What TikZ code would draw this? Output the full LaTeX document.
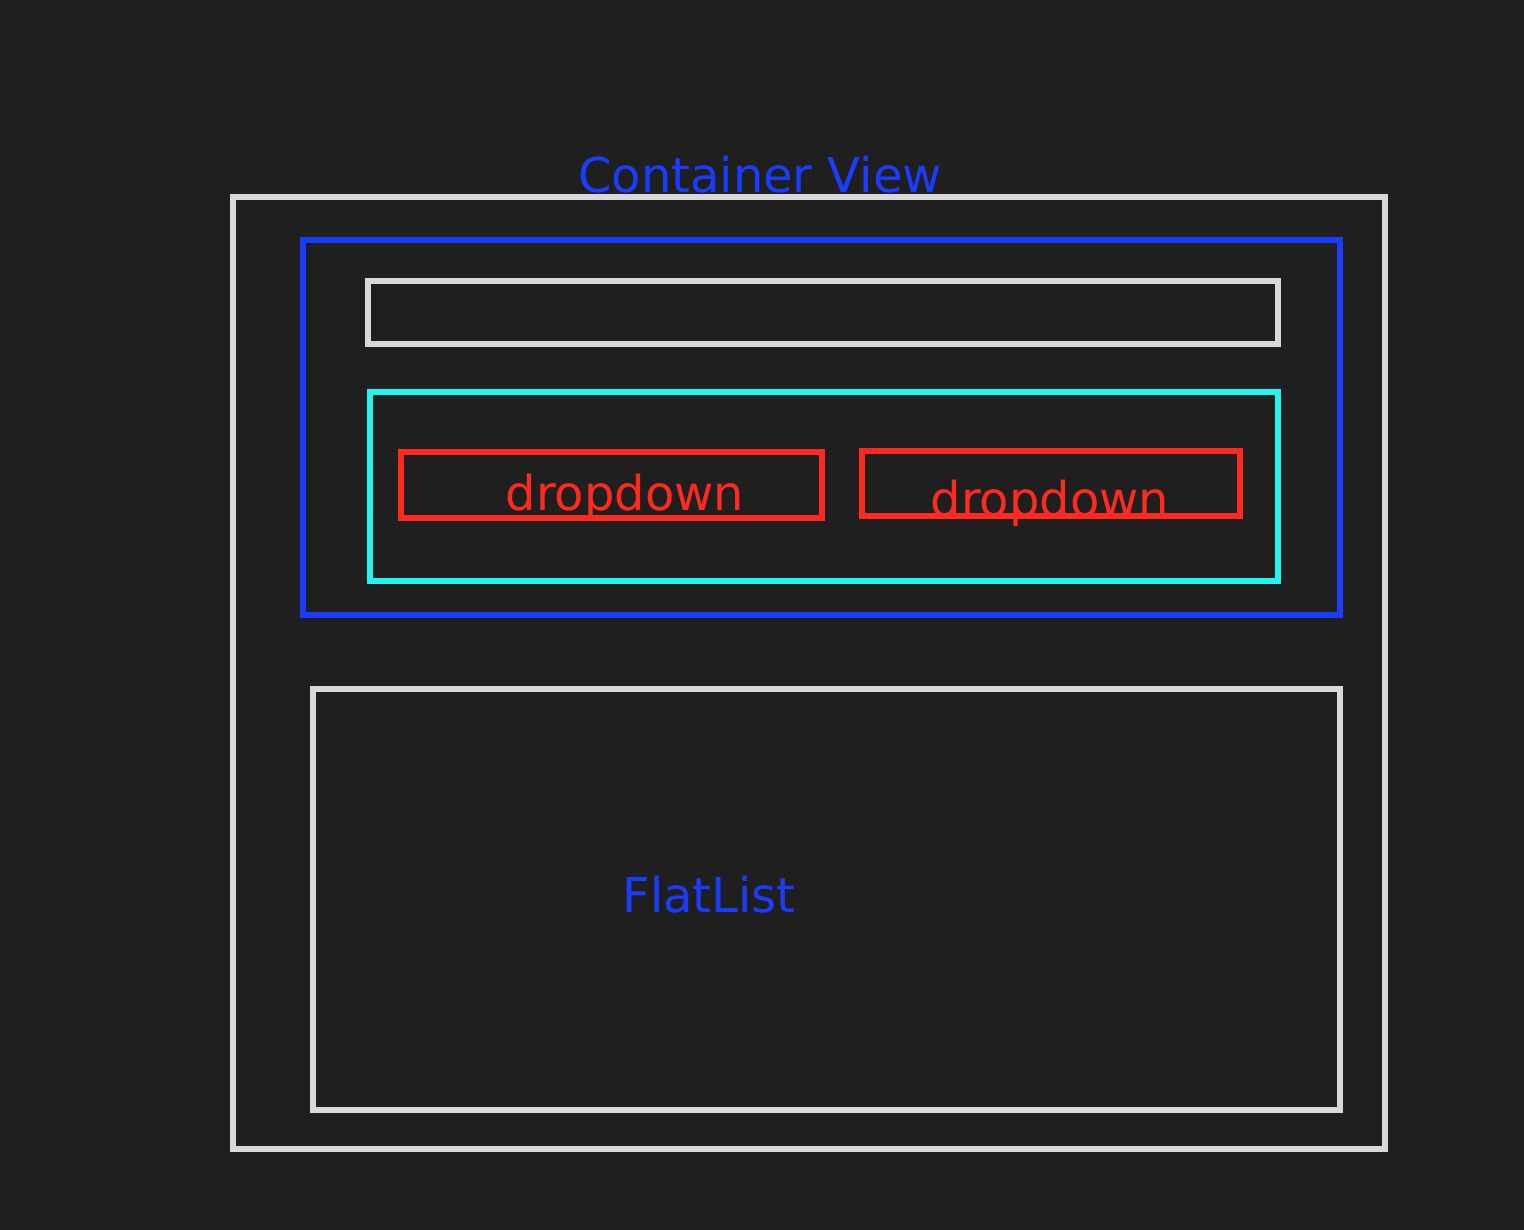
\documentclass[tikz,border=0pt]{standalone}
\usepackage{fontspec}
\setmainfont{DejaVu Sans}
\definecolor{bg}{HTML}{1F1F1F}
\definecolor{lg}{HTML}{D8D8D8}
\definecolor{bl}{HTML}{1A3CFF}
\definecolor{cy}{HTML}{22F5F0}
\definecolor{rd}{HTML}{FF2A1F}
\begin{document}
\begin{tikzpicture}[x=1pt,y=-1pt,line width=6pt,
  lbl/.style={font=\fontsize{48}{54}\selectfont,inner sep=0pt}]
\fill[bg] (0,0) rectangle (1524,1230);
\useasboundingbox (0,0) rectangle (1524,1230);
\draw[lg] (233,197) rectangle (1385,1149);
\draw[bl] (303,240) rectangle (1340,615);
\draw[lg] (368,281) rectangle (1278,344);
\draw[cy] (370,392) rectangle (1278,581);
\draw[rd] (401,452) rectangle (822,518);
\draw[rd] (862,451) rectangle (1240,516);
\draw[lg] (313,689) rectangle (1340,1110);
\node[lbl,text=bl] (cv) at (760,175) {Container View};
\node[lbl,text=rd] (d1) at (625,497) {dropdown};
\node[lbl,text=rd] (d2) at (1050,503) {dropdown};
\node[lbl,text=bl] (fl) at (709,895) {FlatList};
\end{tikzpicture}
\end{document}
